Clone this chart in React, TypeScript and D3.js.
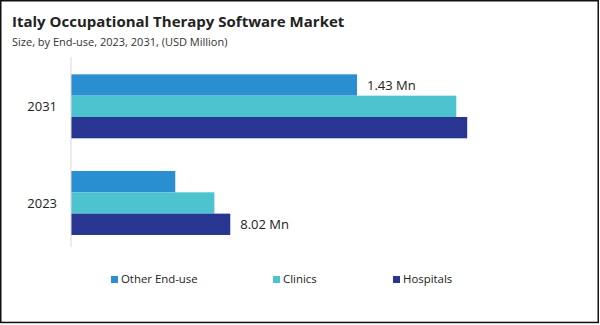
import React from "react";
import * as d3 from "d3";

const years = ["2031", "2023"];
const seriesNames = ["Other End-use", "Clinics", "Hospitals"];
const seriesColors = ["#2a8fd0", "#4cc3cf", "#283691"];
// values per series, ordered like years
const otherValues = [14.4, 5.25];
const clinicsValues = [19.4, 7.22];
const hospitalsValues = [19.95, 8.02];
const seriesValues = [otherValues, clinicsValues, hospitalsValues];
// annotations: [yearIndex, seriesIndex, text]
const annotations: [number, number, string][] = [
  [0, 0, "1.43 Mn"],
  [1, 2, "8.02 Mn"],
];

const W = 600;
const H = 325;

export default function App() {
  const x = d3.scaleLinear().domain([0, 25]).range([71, 71 + 19.86 * 25]);
  const y = d3
    .scaleBand<string>()
    .domain(years)
    .range([58, 251.3])
    .paddingInner(0.338)
    .paddingOuter(0.169);
  const inner = d3
    .scaleBand<string>()
    .domain(seriesNames)
    .range([0, y.bandwidth()]);
  const font = "'Open Sans', sans-serif";

  const legendX = [111, 273, 393];

  return (
    <svg
      width={W}
      height={H}
      style={{ position: "absolute", left: 0, top: 0, background: "#fff" }}
      fontFamily={font}
    >
      <rect x={0} y={0} width={W} height={H} fill="#fff" />
      <text x={12} y={27} fontSize={15} fontWeight="bold" fill="#222">
        Italy Occupational Therapy Software Market
      </text>
      <text x={12} y={46} fontSize={11} fill="#333">
        Size, by End-use, 2023, 2031, (USD Million)
      </text>
      {years.map((yr, yi) =>
        seriesNames.map((s, si) => (
          <rect
            key={yr + s}
            x={x(0)}
            y={(y(yr) as number) + (inner(s) as number)}
            width={x(seriesValues[si][yi]) - x(0)}
            height={inner.bandwidth()}
            fill={seriesColors[si]}
          />
        ))
      )}
      <line x1={71} x2={71} y1={57} y2={247} stroke="#d9d9d9" strokeWidth={1} />
      {years.map((yr) => (
        <text
          key={yr}
          x={57}
          y={(y(yr) as number) + y.bandwidth() / 2}
          dy="0.35em"
          textAnchor="end"
          fontSize={13}
          fill="#222"
        >
          {yr}
        </text>
      ))}
      {annotations.map(([yi, si, t]) => (
        <text
          key={t}
          x={x(seriesValues[si][yi]) + 10}
          y={(y(years[yi]) as number) + (inner(seriesNames[si]) as number) + inner.bandwidth() / 2}
          dy="0.35em"
          fontSize={13}
          fill="#222"
        >
          {t}
        </text>
      ))}
      {seriesNames.map((s, si) => (
        <g key={s}>
          <rect x={legendX[si]} y={276} width={7} height={7} fill={seriesColors[si]} />
          <text x={legendX[si] + 10} y={279.5} dy="0.35em" fontSize={11.4} fill="#222">
            {s}
          </text>
        </g>
      ))}
      <rect x={0.75} y={0.75} width={597.5} height={321.7} fill="none" stroke="#111" strokeWidth={1.5} />
    </svg>
  );
}
